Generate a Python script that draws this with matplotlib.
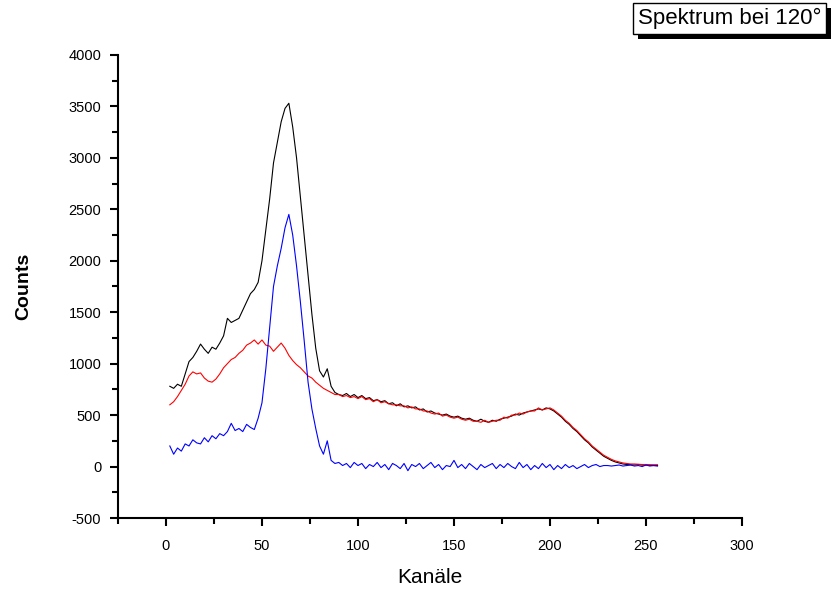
import numpy as np
import matplotlib.pyplot as plt
import matplotlib.patheffects as pe
from matplotlib.ticker import MultipleLocator

plt.rcParams["font.family"] = ["Liberation Sans", "DejaVu Sans"]
plt.rcParams["axes.unicode_minus"] = False

# channel numbers (every second channel)
channels = np.arange(2, 257, 2)

# total spectrum (black)
total = [
    780, 760, 800, 780, 900, 1020, 1060, 1120, 1190, 1140,
    1100, 1160, 1140, 1200, 1270, 1440, 1400, 1420, 1440, 1520,
    1600, 1680, 1720, 1790, 2000, 2300, 2600, 2950, 3150, 3350,
    3480, 3530, 3300, 3000, 2620, 2250, 1850, 1480, 1150, 930,
    870, 950, 780, 720, 700, 690, 710, 680, 700, 670,
    690, 660, 670, 640, 650, 630, 640, 610, 620, 590,
    610, 580, 590, 570, 580, 550, 560, 530, 540, 520,
    510, 500, 510, 490, 480, 490, 470, 460, 470, 450,
    440, 460, 440, 430, 450, 440, 460, 470, 480, 490,
    510, 500, 520, 530, 540, 550, 560, 550, 570, 560,
    540, 510, 480, 440, 410, 370, 340, 300, 260, 230,
    190, 160, 130, 100, 80, 60, 45, 35, 25, 20,
    18, 15, 20, 14, 15, 12, 10, 10,
]

# background (red)
background = [
    600, 630, 680, 740, 800, 880, 920, 900, 910, 860,
    830, 820, 850, 900, 960, 1000, 1040, 1060, 1100, 1130,
    1180, 1200, 1230, 1190, 1230, 1180, 1170, 1120, 1160, 1200,
    1150, 1080, 1030, 990, 960, 920, 880, 860, 820, 790,
    760, 740, 720, 700, 700, 680, 690, 670, 680, 660,
    680, 650, 660, 630, 650, 620, 630, 610, 600, 600,
    590, 590, 570, 580, 560, 560, 540, 540, 520, 510,
    520, 490, 500, 480, 470, 480, 460, 450, 460, 440,
    440, 430, 450, 430, 440, 450, 450, 480, 470, 500,
    500, 520, 510, 530, 540, 540, 570, 550, 560, 570,
    550, 520, 490, 450, 420, 380, 350, 310, 270, 240,
    200, 170, 140, 110, 90, 70, 55, 45, 35, 30,
    25, 25, 22, 20, 20, 18, 18, 18,
]

# difference (blue)
difference = [
    200, 120, 180, 150, 220, 200, 260, 230, 220, 280,
    240, 300, 270, 320, 300, 340, 420, 350, 370, 340,
    410, 380, 360, 470, 620, 950, 1350, 1750, 1950, 2120,
    2320, 2450, 2250, 1950, 1600, 1220, 820, 560, 370, 200,
    120, 250, 60, 30, 40, 10, 30, -10, 40, 10,
    30, -20, 20, 0, 40, -10, 20, -30, 30, 10,
    -20, 30, -40, 20, 0, 30, -20, 10, 40, -10,
    20, -30, 10, 0, 60, -10, 20, -20, 30, 0,
    -30, 20, -10, 10, 30, -20, 20, -10, 30, 0,
    -20, 40, -10, 20, -30, 10, -20, 30, -10, 20,
    -30, 10, -20, 20, -10, 10, -20, 0, 20, -10,
    10, 20, 0, 10, 10, 5, 10, 15, 5, 10,
    15, 5, 10, 0, 15, 5, 10, 5,
]


def main():
    fig = plt.figure(figsize=(8.32, 5.9), dpi=100)
    ax = fig.add_axes([0.1418, 0.122, 0.75, 0.785])

    ax.plot(channels, total, color='black', lw=0.8)
    ax.plot(channels, background, color='red', lw=0.8)
    ax.plot(channels, difference, color='blue', lw=0.8)

    ax.set_xlim(-25, 300)
    ax.set_ylim(-500, 4000)
    ax.xaxis.set_major_locator(MultipleLocator(50))
    ax.xaxis.set_minor_locator(MultipleLocator(25))
    ax.yaxis.set_major_locator(MultipleLocator(500))
    ax.yaxis.set_minor_locator(MultipleLocator(250))

    for side in ['top', 'right']:
        ax.spines[side].set_visible(False)
    for side in ['left', 'bottom']:
        ax.spines[side].set_linewidth(1.5)
    ax.tick_params(which='major', direction='out', length=6, width=1.5,
                   labelsize=10.5)
    ax.tick_params(axis='x', which='major', pad=9)
    ax.tick_params(axis='y', which='major', pad=6)
    ax.tick_params(which='minor', direction='out', length=4, width=1.5)

    ax.set_xlabel('Kanäle', fontsize=15, labelpad=11)
    ax.set_ylabel('Counts', fontsize=14, fontweight='bold', labelpad=26)

    title = fig.text(0.987, 0.968, 'Spektrum bei 120°', fontsize=16,
                     ha='right', va='center',
                     bbox=dict(boxstyle='square,pad=0.22', fc='white',
                               ec='black', lw=1))
    title.get_bbox_patch().set_path_effects(
        [pe.SimplePatchShadow(offset=(3.5, -3.5), shadow_rgbFace='black',
                              alpha=1), pe.Normal()])

    fig.savefig('out.png', dpi=100)


if __name__ == "__main__":
    main()
